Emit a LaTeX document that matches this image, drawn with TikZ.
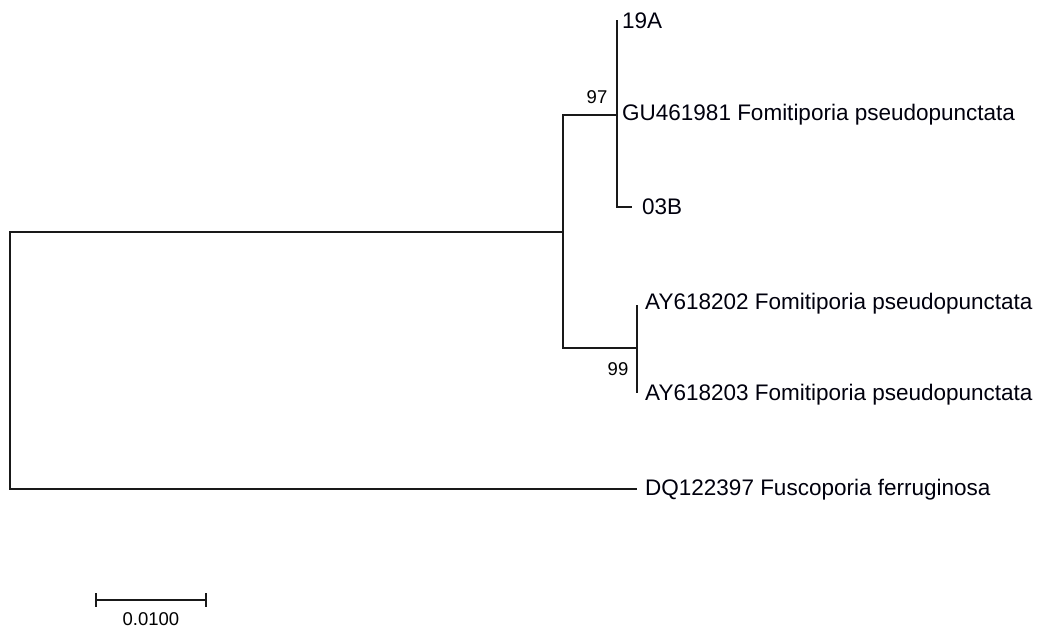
\documentclass[tikz,border=0pt]{standalone}
\usepackage{fontspec}
\setmainfont{Liberation Sans}
\begin{document}
\begin{tikzpicture}[x=1pt,y=-1pt,
  branch/.style={line width=1.7pt, draw=black!90},
  leaf/.style={anchor=base west, inner sep=0pt, yshift=-8pt,
    font=\fontsize{22.5}{25}\selectfont, text=black!95!blue},
  boot/.style={inner sep=0pt, font=\fontsize{18.5}{20}\selectfont},
  scalelbl/.style={inner sep=0pt, font=\fontsize{18.5}{20}\selectfont}]
\useasboundingbox (0,0) rectangle (1038,629);

% internal nodes
\coordinate (root) at (10,360);
\coordinate (n1) at (563,232);
\coordinate (n2) at (617,115);
\coordinate (n3) at (637,348);

% tips
\coordinate (t19A) at (617,20);
\coordinate (tGU)  at (617,115);
\coordinate (t03B) at (632,207);
\coordinate (tAY2) at (637,305);
\coordinate (tAY3) at (637,393);
\coordinate (tDQ)  at (637,489);

% branches
\draw[branch] (n1) -| (root) |- (tDQ);
\draw[branch] (n2) -| (n1) |- (n3);
\draw[branch] (t19A) -- (n2 |- t03B) -- (t03B);
\draw[branch] (tAY2) -- (tAY3);

% tip labels
\node[leaf] (l19A) at (622,20)  {19A};
\node[leaf] (lGU)  at (622,112) {GU461981 Fomitiporia pseudopunctata};
\node[leaf] (l03B) at (642,206) {03B};
\node[leaf] (lAY2) at (645,301) {AY618202 Fomitiporia pseudopunctata};
\node[leaf] (lAY3) at (645,392) {AY618203 Fomitiporia pseudopunctata};
\node[leaf] (lDQ)  at (645,487) {DQ122397 Fuscoporia ferruginosa};

% bootstrap support
\node[boot] (b97) at (597,97.5) {97};
\node[boot] (b99) at (618,369.5) {99};

% scale bar
\coordinate (sL) at (96,600);
\coordinate (sR) at (206,600);
\draw[branch] (sL) -- (sR);
\draw[branch] ([yshift=7pt]sL) -- ([yshift=-7pt]sL);
\draw[branch] ([yshift=7pt]sR) -- ([yshift=-7pt]sR);
\node[scalelbl] (slbl) at (151,619.5) {0.0100};
\end{tikzpicture}
\end{document}
